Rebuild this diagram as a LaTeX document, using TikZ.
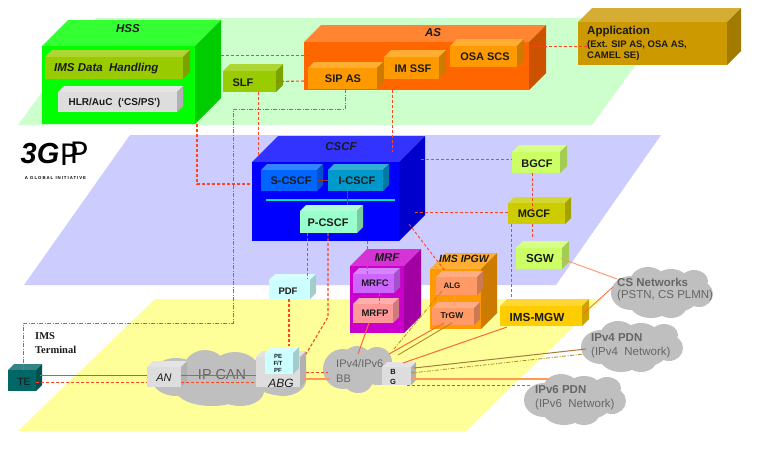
\documentclass[tikz,border=0pt]{standalone}
\usepackage{fontspec}
\setmainfont{Liberation Sans}
\newfontfamily\termfont{Liberation Serif}
\newfontfamily\lightfont{Lato}
\newfontfamily\tagfont[LetterSpace=23]{Liberation Sans}
\usetikzlibrary{calc}
\definecolor{plgreen}{HTML}{CCFFCC}
\definecolor{plblue}{HTML}{CCCCFF}
\definecolor{plyellow}{HTML}{FFFF99}
\definecolor{cloudgray}{HTML}{BFBFBF}
\definecolor{linkred}{HTML}{FF4422}
\definecolor{linkorange}{HTML}{FF6633}
\definecolor{linkthick}{HTML}{FF9955}
\definecolor{linkolive}{HTML}{B08A20}
\definecolor{linkbrown}{HTML}{A87A40}
\definecolor{txtdark}{HTML}{1A1A1A}
\definecolor{txtgray}{HTML}{666666}
\definecolor{cHSS}{HTML}{00FF00}
\definecolor{cOlive}{HTML}{99CC00}
\definecolor{cGrey}{HTML}{DDDDDD}
\definecolor{cAS}{HTML}{FF6600}
\definecolor{cAmber}{HTML}{FF9900}
\definecolor{cApp}{HTML}{CC9900}
\definecolor{cCSCF}{HTML}{0000FF}
\definecolor{cS}{HTML}{0066FF}
\definecolor{cI}{HTML}{0099CC}
\definecolor{cP}{HTML}{99FFCC}
\definecolor{cLime}{HTML}{CCFF66}
\definecolor{cMGCF}{HTML}{CCCC00}
\definecolor{cMGW}{HTML}{FFCC00}
\definecolor{cSalmon}{HTML}{FF9966}
\definecolor{cMRF}{HTML}{CC00CC}
\definecolor{cMRFC}{HTML}{CC66FF}
\definecolor{cMRFP}{HTML}{FF9999}
\definecolor{cPale}{HTML}{CCFFFF}
\definecolor{cTE}{HTML}{006666}
\definecolor{cLine}{HTML}{00E6C0}
\tikzset{
  x=1pt,y=-1pt,
  lab/.style={text=txtdark,inner sep=0pt,font=\bfseries\fontsize{11}{12}\selectfont},
  ilab/.style={text=txtdark,inner sep=0pt,font=\bfseries\itshape\fontsize{11.5}{12}\selectfont},
  gtxt/.style={text=txtgray,inner sep=0pt,anchor=west,font=\fontsize{11.5}{12}\selectfont},
  gbold/.style={gtxt,font=\bfseries\fontsize{11.5}{12}\selectfont},
  sig/.style={draw=linkred,line width=.9pt,dash pattern=on 3pt off 2pt},
  sigdd/.style={draw=linkred,line width=.9pt,dash pattern=on 4pt off 1.5pt on 1pt off 1.5pt},
  solidl/.style={draw=linkorange,line width=1pt},
  thickl/.style={draw=linkthick,line width=1.8pt},
  oldd/.style={draw=linkolive,line width=.8pt,dash pattern=on 4pt off 1.5pt on 1pt off 1.5pt},
}
% name x1 y1 x2 y2 depth colour
\newcommand{\cub}[7]{%
  \fill[#7!80!white] (#2,#3) -- ++(#6,-#6) -- (#4+#6,#3-#6) -- (#4,#3) -- cycle;
  \fill[#7!80!black] (#4,#3) -- (#4+#6,#3-#6) -- (#4+#6,#5-#6) -- (#4,#5) -- cycle;
  \node[fill=#7,inner sep=0pt,outer sep=0pt,minimum width=#4pt-#2pt,minimum height=#5pt-#3pt] (#1) at ({(#2+#4)/2},{(#3+#5)/2}) {};
}
% left top
\newcommand{\pdncloud}[2]{%
  \begin{scope}[shift={(#1,#2)}]
    \foreach \a/\b/\c/\d in {20/26/20/17,37/15/18/15,60/14/17/12,83/14/14/11,88/27/14/13,65/30/22/15,40/35/22/16,60/38/16/13}
      \fill[cloudgray] (\a,\b) ellipse [x radius=\c,y radius=\d];
  \end{scope}
}
\begin{document}
\begin{tikzpicture}
\useasboundingbox (0,0) rectangle (767,453);
\fill[white] (0,0) rectangle (767,453);
% planes
\fill[plgreen] (96,18) -- (670,18) -- (592,125) -- (18,125) -- cycle;
\fill[plblue] (130,135) -- (661,135) -- (556,285) -- (24,285) -- cycle;
\fill[plyellow] (155,299) -- (602,299) -- (466,431) -- (18,431) -- cycle;
% logo
\node[inner sep=0pt,font=\bfseries\itshape\fontsize{29}{30}\selectfont,text=black] (logo3g) at (40,154) {3G};
\node[inner sep=0pt,font=\lightfont\fontsize{30}{30}\selectfont,text=black] (logop1) at (69,155) {P};
\node[inner sep=0pt,font=\lightfont\fontsize{30}{30}\selectfont,text=black] (logop2) at (79,153) {P};
\node[inner sep=0pt,font=\tagfont\bfseries\fontsize{4.3}{5}\selectfont,text=black] (logotag) at (55.5,178) {A GLOBAL INITIATIVE};
% clouds
\foreach \a/\b/\c/\d in {176/377/25/19,205/373/23/23,235/372/25/20,212/390/36/16,240/391/24/15,278/373/28/22,283/380/23/16}
  \fill[cloudgray] (\a,\b) ellipse [x radius=\c,y radius=\d];
\foreach \a/\b/\c/\d in {343/369/20/20,357/362/15/16,377/362/15/15,358/380/15/13,378/372/18/13,392/372/11/10}
  \fill[cloudgray] (\a,\b) ellipse [x radius=\c,y radius=\d];
\pdncloud{611}{267}
\pdncloud{581}{321}
\pdncloud{524}{374}
% boxes
\cub{hss}{42}{46}{195}{124}{26}{cHSS}
\cub{dh}{45}{57}{183}{79}{7}{cOlive}
\cub{hlr}{58}{92}{177}{112}{6}{cGrey}
\cub{slf}{223}{71}{276}{92}{7}{cOlive}
\cub{as}{304}{42}{529}{90}{17}{cAS}
\cub{sipas}{308}{68}{377}{89}{6}{cAmber}
\cub{imssf}{384}{57}{439}{79}{7}{cAmber}
\cub{osa}{450}{46}{517}{67}{7}{cAmber}
\cub{app}{578}{22}{727}{65}{14}{cApp}
\cub{cscf}{252}{162}{399}{241}{26}{cCSCF}
\cub{scscf}{261}{170}{317}{191}{6}{cS}
\cub{icscf}{328}{170}{383}{191}{6}{cI}
\fill[cLine] (266,199) rectangle (395,201);
\cub{pcscf}{300}{211}{357}{233}{6}{cP}
\cub{bgcf}{512}{152}{560}{173}{7}{cLime}
\cub{mgcf}{508}{203}{565}{224}{6}{cMGCF}
\cub{sgw}{516}{248}{562}{269}{7}{cLime}
\cub{mgw}{500}{306}{582}{326}{7}{cMGW}
\cub{ipgw}{430}{269}{481}{329}{16}{cAmber}
\cub{alg}{436}{277}{477}{295}{6}{cSalmon}
\cub{trgw}{432}{308}{474}{325}{6}{cSalmon}
\cub{mrf}{350}{266}{404}{333}{17}{cMRF}
\cub{mrfc}{353}{274}{394}{293}{6}{cMRFC}
\cub{mrfp}{353}{304}{393}{323}{6}{cMRFP}
\cub{pdf}{269}{280}{310}{299}{6}{cPale}
\cub{te}{8}{370}{36}{391}{6}{cTE}
\cub{an}{147}{367}{181}{387}{6}{cGrey}
\cub{abg}{256}{357}{300}{387}{6}{cGrey}
\cub{pe}{265}{353}{293}{374}{6}{cPale}
\cub{bg}{382}{367}{411}{385}{5}{cGrey}
% labels
\node[ilab] (hssT) at (128,29) {HSS};
\node[ilab,anchor=west] (dhT) at (54,69) {IMS Data\ \ Handling};
\node[lab,font=\bfseries\fontsize{10}{12}\selectfont] (hlrT) at (114.5,103) {HLR/AuC\ \ (‘CS/PS’)};
\node[lab] (slfT) at (243,83) {SLF};
\node[ilab] (asT) at (433,33) {AS};
\node[lab] (sipT) at (343,79) {SIP AS};
\node[lab] (ssfT) at (413,69) {IM SSF};
\node[lab] (osaT) at (485,57) {OSA SCS};
\node[lab,anchor=west,font=\bfseries\fontsize{11.5}{12}\selectfont] (appT1) at (587,32) {Application};
\node[lab,anchor=west,font=\bfseries\fontsize{9.5}{10}\selectfont] (appT2) at (587,45) {(Ext. SIP AS, OSA AS,};
\node[lab,anchor=west,font=\bfseries\fontsize{9.5}{10}\selectfont] (appT3) at (587,56.5) {CAMEL SE)};
\node[ilab] (cscfT) at (341,147) {CSCF};
\node[lab] (sT) at (291,181) {S-CSCF};
\node[lab] (iT) at (357,181) {I-CSCF};
\node[lab] (pT) at (328,222.5) {P-CSCF};
\node[lab] (bgT) at (537,164) {BGCF};
\node[lab] (mgT) at (534,214) {MGCF};
\node[lab,font=\bfseries\fontsize{11.7}{12}\selectfont] (sgwT) at (540,258) {SGW};
\node[lab,font=\bfseries\fontsize{11.7}{12}\selectfont] (mgwT) at (537,317) {IMS-MGW};
\node[ilab,font=\bfseries\itshape\fontsize{10.5}{12}\selectfont] (ipgwT) at (464,259) {IMS IPGW};
\node[lab,font=\bfseries\fontsize{8}{10}\selectfont] (algT) at (452,286) {ALG};
\node[lab,font=\bfseries\fontsize{8.5}{10}\selectfont] (trT) at (452,316) {TrGW};
\node[ilab] (mrfT) at (387,258) {MRF};
\node[lab,font=\bfseries\fontsize{9.5}{10}\selectfont] (mrfcT) at (375,283) {MRFC};
\node[lab,font=\bfseries\fontsize{9.5}{10}\selectfont] (mrfpT) at (375,313) {MRFP};
\node[lab,font=\bfseries\fontsize{9.5}{10}\selectfont] (pdfT) at (288,291) {PDF};
\node[inner sep=0pt,text=txtdark,font=\fontsize{10.5}{12}\selectfont] (teT) at (24,382) {TE};
\node[inner sep=0pt,text=txtdark,font=\itshape\fontsize{11}{12}\selectfont] (anT) at (164,378) {AN};
\node[inner sep=0pt,text=txtdark,font=\itshape\fontsize{12}{12}\selectfont] (abgT) at (281,383) {ABG};
\node[lab,align=center,font=\bfseries\fontsize{6}{7}\selectfont] (peT) at (278,363) {PE\\F/T\\PF};
\node[lab,align=center,font=\bfseries\fontsize{7.5}{10}\selectfont] (bgT2) at (393,377) {B\\G};
\node[inner sep=0pt,text=txtgray,font=\fontsize{14.4}{15}\selectfont] (ipcanT) at (222,375) {IP CAN};
\node[gtxt,font=\fontsize{11}{12}\selectfont] (bbT1) at (336,364) {IPv4/IPv6};
\node[gtxt,font=\fontsize{11}{12}\selectfont] (bbT2) at (336,379) {BB};
\node[gbold] (csT1) at (617,282) {CS Networks};
\node[gtxt] (csT2) at (617,296) {(PSTN, CS PLMN)};
\node[gbold] (v4T1) at (591,338) {IPv4 PDN};
\node[gtxt] (v4T2) at (591,353) {(IPv4\ \ Network)};
\node[gbold] (v6T1) at (535,390) {IPv6 PDN};
\node[gtxt] (v6T2) at (535,405) {(IPv6\ \ Network)};
\node[inner sep=0pt,anchor=west,align=left,text=txtdark,font=\termfont\bfseries\fontsize{10.5}{14.5}\selectfont] (termT) at (35,343) {IMS\\Terminal};
% free connector ends and bends
\coordinate (hb) at (197,184);
\coordinate (d1) at (345,109);
\coordinate (d2) at (233,109);
\coordinate (d3) at (233,323);
\coordinate (d4) at (23,323);
\coordinate (e1) at (328,317);
\coordinate (bb1) at (358,354);
\coordinate (bb2) at (328,372);
\coordinate (bb3) at (330,379);
\coordinate (bb4) at (403,363);
\coordinate (bb5) at (389,354);
\coordinate (bb6) at (398,355);
\coordinate (bb7) at (394,349);
\coordinate (cs1) at (617,279);
\coordinate (cs2) at (613,287);
\coordinate (v4a) at (586,349);
\coordinate (v4b) at (584,354);
\coordinate (v6a) at (549,379);
\coordinate (v6b) at (531,385);
% connectors
\draw[sig] ([xshift=26pt,yshift=30pt]hss.east) -- ([xshift=6pt,yshift=11pt]as.west);
\draw[sig,line width=1.1pt] (slf.east) -- ([xshift=-3pt,yshift=-2.5pt]sipas.west);
\draw[sig] ([xshift=8.5pt]slf.south) -- ([xshift=-67.5pt,yshift=7pt]cscf.north);
\draw[sig,line width=1.1pt] ([xshift=78.5pt]hss.south) -- (hb) -- ([yshift=17.5pt]cscf.west);
\draw[sigdd] ([xshift=2.5pt]sipas.south) -- (d1) -- (d2) -- (d3) -- (d4) -- ([xshift=1pt]te.north);
\draw[draw=linkred!70!black,line width=.7pt] (scscf.east) -- (icscf.west);
\draw[draw=linkred!70!black,line width=.7pt] ([xshift=-8.5pt]icscf.south) -- ([xshift=18.5pt,yshift=6pt]pcscf.north);
\draw[sig] ([xshift=5pt,yshift=20pt]as.east) -- ([xshift=9pt,yshift=-2.5pt]app.west);
\draw[sig] ([xshift=-24.5pt]as.south) -- ([xshift=66.5pt,yshift=10pt]cscf.north);
\draw[sig] ([xshift=22pt,yshift=42.5pt]cscf.east) -- ([yshift=3.5pt]bgcf.west);
\draw[sig] ([xshift=16pt,yshift=-10.5pt]cscf.east) -- ([yshift=1.5pt]mgcf.west);
\draw[sig] ([xshift=-4pt]bgcf.south) -- ([xshift=-4.5pt,yshift=-7pt]mgcf.north);
\draw[sig] ([xshift=-4.5pt]mgcf.south) -- ([xshift=-7pt,yshift=9pt]sgw.north);
\draw[sig] ([xshift=-25.5pt]mgcf.south) -- ([xshift=-30pt,yshift=7pt]mgw.north);
\draw[sig] ([xshift=10pt,yshift=17pt]cscf.south east) -- ([xshift=-11.5pt,yshift=6pt]alg.north);
\draw[sig] ([xshift=-21.5pt]pcscf.south) -- ([xshift=17.5pt,yshift=1pt]pdf.north);
\draw[sig,line width=1.1pt] ([xshift=-.5pt]pcscf.south) -- (e1) -- ([xshift=6pt,yshift=3pt]abg.north east);
\draw[sig] ([xshift=41.5pt]cscf.south) -- ([xshift=-6.5pt]mrfc.north);
\draw[sig] ([xshift=5.5pt]mrfc.south) -- ([xshift=6pt]mrfp.north);
\draw[solidl] ([xshift=-4pt]mrfp.south) -- (bb1);
\draw[sig,line width=1.1pt] ([xshift=-.5pt]pdf.south) -- ([xshift=10pt,yshift=7pt]pe.north);
\draw[solidl,draw=linkred] ([xshift=4pt,yshift=5.5pt]te.east) -- ([yshift=2pt]an.west);
\draw[sig] ([yshift=-1.5pt]te.east) -- ([yshift=-5pt]an.west);
\draw[solidl,draw=linkred] ([yshift=2pt]an.east) -- ([yshift=-3pt]abg.west);
\draw[sig] ([yshift=-5pt]an.east) -- ([yshift=-10pt]abg.west);
\draw[sig] ([xshift=6pt]abg.east) -- (bb2);
\draw[thickl] ([xshift=4pt,yshift=-7pt]abg.east) -- (bb3);
\draw[linkorange!70!white,line width=.9pt] ([xshift=-1pt]sgw.east) -- (cs1);
\draw[solidl,line width=.8pt] ([xshift=2pt,yshift=3pt]mgw.east) -- (cs2);
\draw[solidl] ([xshift=7pt,yshift=-1pt]mgw.south west) -- (bb4);
\draw[solidl] ([xshift=-9pt,yshift=2pt]trgw.south) -- (bb5);
\draw[linkolive,line width=.9pt] ([xshift=-1pt,yshift=2pt]trgw.south) -- (bb6);
\draw[thickl,line width=1pt] ([xshift=-2.5pt,yshift=5pt]alg.south) -- ([xshift=1pt,yshift=2pt]trgw.north);
\draw[oldd] ([xshift=-14.5pt,yshift=4pt]alg.south) -- (bb7);
\draw[linkbrown,line width=1pt] ([xshift=3pt,yshift=8pt]bg.east) -- (v4a);
\draw[oldd] ([yshift=3pt]bg.east) -- (v4b);
\draw[thickl] ([yshift=-3pt]bg.east) -- (v6a);
\draw[sig] ([xshift=10.5pt]bg.south) -- (v6b);
\end{tikzpicture}
\end{document}
